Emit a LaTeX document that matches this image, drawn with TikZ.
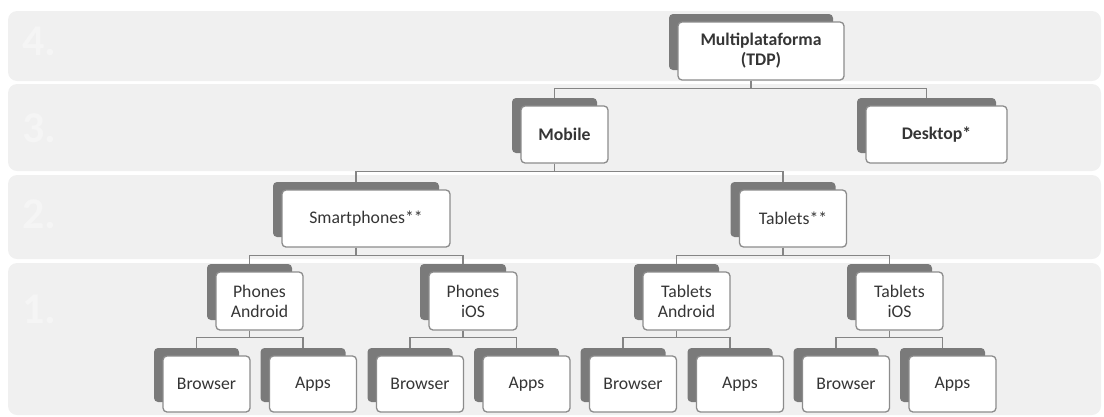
\documentclass[tikz,border=0pt]{standalone}
\usepackage{fontspec}
\setmainfont{Carlito}
\usetikzlibrary{calc}
\definecolor{bandfill}{HTML}{F0F0F0}
\definecolor{bandtext}{HTML}{F5F5F5}
\definecolor{backfill}{HTML}{7A7A7A}
\definecolor{frontline}{HTML}{8C8C8C}
\definecolor{conncol}{HTML}{858585}
\definecolor{txt}{HTML}{353535}
\tikzset{
  band/.style={fill=bandfill, rounded corners=9pt},
  bandlabel/.style={anchor=west, text=bandtext, font=\fontsize{44}{44}\selectfont\bfseries, inner sep=0pt},
  backbox/.style={fill=backfill, rounded corners=4pt, inner sep=0pt},
  frontbox/.style={fill=white, draw=frontline, line width=1.3pt, rounded corners=4pt, inner sep=0pt, align=center, text=txt, font=\fontsize{17.7}{20}\selectfont},
  boldbox/.style={frontbox, font=\fontsize{17.7}{20}\selectfont\bfseries},
  conn/.style={draw=conncol, line width=1.2pt}
}
% #1 name, #2 cx, #3 cy, #4 width, #5 height, #6 style, #7 text
\newcommand{\mkbox}[7]{%
  \node[backbox, minimum width={#4pt-2pt}, minimum height={#5pt-2pt}] (#1b) at (#2-10,#3-9) {};
  \node[#6, minimum width={#4pt}, minimum height={#5pt}] (#1) at (#2,#3) {#7};
}
\begin{document}
\begin{tikzpicture}[x=1pt,y=-1pt]
\useasboundingbox (0,0) rectangle (1104,416);
% bands
\path[band] (8,11) rectangle (1101,81);
\path[band] (8,84) rectangle (1101,171);
\path[band] (8,175) rectangle (1101,259);
\path[band] (8,263) rectangle (1101,415);
\node[bandlabel] (l4) at (22,41) {4.};
\node[bandlabel] (l3) at (22,128) {3.};
\node[bandlabel] (l2) at (22,214) {2.};
\node[bandlabel] (l1) at (22,309) {1.};
% nodes
\mkbox{multi}{761}{51}{166}{58}{boldbox}{Multiplataforma\\(TDP)}
\mkbox{mobile}{564.5}{134.5}{87}{57}{boldbox}{Mobile}
\mkbox{desk}{936.5}{134.5}{141}{57}{boldbox}{Desktop*}
\mkbox{smart}{366}{218.5}{168}{57}{frontbox}{Smartphones**}
\mkbox{tabl}{793}{218.5}{107}{57}{frontbox}{Tablets**}
\mkbox{pa}{259.5}{301}{87}{58}{frontbox}{Phones\\Android}
\mkbox{pi}{473}{301}{88}{58}{frontbox}{Phones\\iOS}
\mkbox{ta}{686.5}{301}{87}{58}{frontbox}{Tablets\\Android}
\mkbox{ti}{899.5}{301}{87}{58}{frontbox}{Tablets\\iOS}
\mkbox{bra}{206.5}{384}{87}{56}{frontbox}{Browser}
\mkbox{apa}{313}{384}{87}{56}{frontbox}{Apps}
\mkbox{bri}{420}{384}{87}{56}{frontbox}{Browser}
\mkbox{api}{526.5}{384}{87}{56}{frontbox}{Apps}
\mkbox{brta}{633}{384}{87}{56}{frontbox}{Browser}
\mkbox{apta}{740}{384}{87}{56}{frontbox}{Apps}
\mkbox{brti}{846}{384}{87}{56}{frontbox}{Browser}
\mkbox{apti}{952.5}{384}{87}{56}{frontbox}{Apps}
% connectors
\draw[conn] (multi.south -| multib.center) -- ++(0,8) -| (mobileb.north);
\draw[conn] (multi.south -| multib.center) -- ++(0,8) -| (deskb.north);
\draw[conn] (mobile.south -| mobileb.center) -- ++(0,8) -| (smartb.north);
\draw[conn] (mobile.south -| mobileb.center) -- ++(0,8) -| (tablb.north);
\draw[conn] (smart.south -| smartb.center) -- ++(0,8) -| (pab.north);
\draw[conn] (smart.south -| smartb.center) -- ++(0,8) -| (pib.north);
\draw[conn] (tabl.south -| tablb.center) -- ++(0,8) -| (tab.north);
\draw[conn] (tabl.south -| tablb.center) -- ++(0,8) -| (tib.north);
\draw[conn] (pa.south -| pab.center) -- ++(0,7) -| (brab.north);
\draw[conn] (pa.south -| pab.center) -- ++(0,7) -| (apab.north);
\draw[conn] (pi.south -| pib.center) -- ++(0,7) -| (brib.north);
\draw[conn] (pi.south -| pib.center) -- ++(0,7) -| (apib.north);
\draw[conn] (ta.south -| tab.center) -- ++(0,7) -| (brtab.north);
\draw[conn] (ta.south -| tab.center) -- ++(0,7) -| (aptab.north);
\draw[conn] (ti.south -| tib.center) -- ++(0,7) -| (brtib.north);
\draw[conn] (ti.south -| tib.center) -- ++(0,7) -| (aptib.north);
\end{tikzpicture}
\end{document}
